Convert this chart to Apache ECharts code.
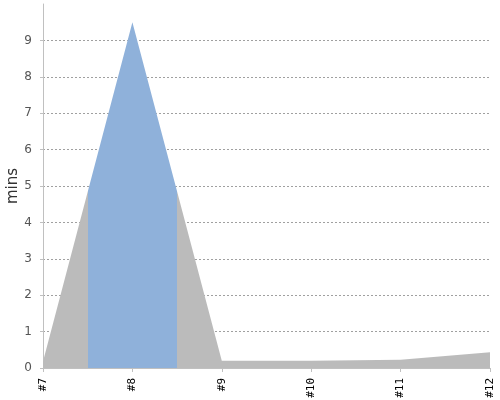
<!DOCTYPE html>
<html>
<head>
<meta charset="utf-8">
<script src="https://cdn.jsdelivr.net/npm/echarts@6/dist/echarts.min.js"></script>
<style>html,body{margin:0;padding:0;background:#fff}#c{width:500px;height:400px}</style>
</head>
<body>
<div id="c"></div>
<script>
const categories = ['#7', '#8', '#9', '#10', '#11', '#12'];
const minsValues = [0.18, 9.5, 0.2, 0.2, 0.23, 0.43];
const highlightFrom = 0.5;
const highlightTo = 1.5;

const seriesData = minsValues.map((v, i) => [i, v]);

const chart = echarts.init(document.getElementById('c'));
chart.setOption({
  animation: false,
  grid: { left: 43, right: 10, top: 4, bottom: 32, containLabel: false, outerBoundsMode: 'none' },
  visualMap: {
    show: false,
    type: 'piecewise',
    dimension: 0,
    seriesIndex: 0,
    pieces: [{ gt: highlightFrom, lte: highlightTo, color: '#8fb1da' }],
    outOfRange: { color: '#bbbbbb' }
  },
  xAxis: {
    type: 'value',
    min: 0,
    max: categories.length - 1,
    interval: 1,
    offset: 4,
    axisLine: { lineStyle: { color: '#c0c0c0' } },
    axisTick: { show: true, length: 4, lineStyle: { color: '#c0c0c0' } },
    splitLine: { show: false },
    axisLabel: {
      rotate: 90, fontSize: 11, fontFamily: 'DejaVu Sans Mono', color: '#000', margin: 6,
      formatter: v => categories[v] ?? ''
    }
  },
  yAxis: {
    type: 'value',
    min: 0,
    max: 10,
    interval: 1,
    offset: 4,
    name: 'mins',
    nameLocation: 'middle',
    nameGap: 18,
    nameMoveOverlap: false,
    nameTextStyle: { fontSize: 15, fontFamily: 'DejaVu Sans', color: '#333' },
    axisLine: { show: true, lineStyle: { color: '#c0c0c0' } },
    axisTick: { show: true, length: 3, lineStyle: { color: '#c0c0c0' } },
    axisLabel: { fontSize: 12, fontFamily: 'DejaVu Sans', color: '#555', margin: 7, showMaxLabel: false },
    splitLine: { show: true, showMinLine: false, showMaxLine: false, lineStyle: { color: '#888', type: [2, 2], width: 0.8 } }
  },
  series: [{
    type: 'line',
    data: seriesData,
    showSymbol: false,
    lineStyle: { width: 0 },
    areaStyle: { opacity: 1 }
  }]
});
</script>
</body>
</html>
